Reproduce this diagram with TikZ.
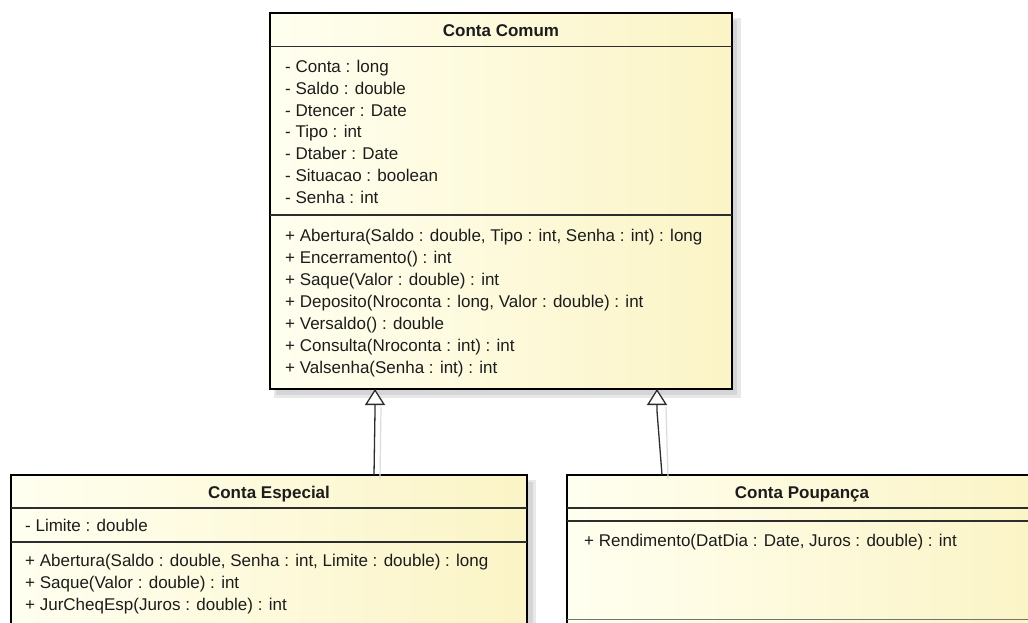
\documentclass[tikz,border=0pt]{standalone}
\usepackage{fontspec}
\setmainfont{Liberation Sans}
\usetikzlibrary{calc,arrows.meta}

\definecolor{classlight}{RGB}{255,255,240}
\definecolor{classdeep}{RGB}{251,244,198}
\definecolor{shadowgray}{RGB}{205,205,208}
\definecolor{inkgray}{RGB}{28,28,28}
\definecolor{rulegray}{RGB}{45,45,45}

\begin{document}
\begin{tikzpicture}[x=1pt,y=-1pt,
  classbox/.style={draw=black, line width=2.6pt, inner sep=0pt, outer sep=0pt,
    left color=classlight, right color=classdeep, anchor=north west},
  compline/.style={draw=rulegray, line width=1.4pt},
  member/.style={anchor=base west, inner sep=0pt, text=inkgray,
    font=\fontsize{17}{20}\selectfont},
  classname/.style={anchor=base, inner sep=0pt, text=inkgray,
    font=\fontsize{17}{20}\selectfont\bfseries},
  generalization/.style={draw=rulegray, line width=1.3pt,
    -{Triangle[open, length=16pt, width=20pt, fill=white]}},
  linkshadow/.style={draw=shadowgray!70, line width=1.2pt}]

\useasboundingbox (0,0) rectangle (1028,623);
\clip (0,0) rectangle (1028,623);
\fill[white] (0,0) rectangle (1028,623);

% soft drop shadows behind the class boxes
\fill[shadowgray, opacity=0.45] (274,18) rectangle (741,398);
\fill[shadowgray, opacity=0.7] (276,20) rectangle (737,395);
\fill[shadowgray, opacity=0.45] (15,480) rectangle (536,640);
\fill[shadowgray, opacity=0.7] (17,482) rectangle (533,640);

% ---------------- Conta Comum ----------------
\node[classbox, minimum width=462pt, minimum height=376pt] (comum) at (270,13) {};
\draw[compline] (comum.north west |- 0,46.5) coordinate (cL1) -- (comum.north east |- 0,46.5) coordinate (cR1);
\draw[compline] (comum.north west |- 0,215) coordinate (cL2) -- (comum.north east |- 0,215) coordinate (cR2);
\node[classname] (comumname) at (501,37) {Conta Comum};

\foreach \txt [count=\i] in {
  {- Conta : long},
  {- Saldo : double},
  {- Dtencer : Date},
  {- Tipo : int},
  {- Dtaber : Date},
  {- Situacao : boolean},
  {- Senha : int}}
  \node[member] (ca\i) at (285,{72.5+21.8*(\i-1)}) {\txt};

\foreach \txt [count=\i] in {
  {+ Abertura(Saldo : double, Tipo : int, Senha : int) : long},
  {+ Encerramento() : int},
  {+ Saque(Valor : double) : int},
  {+ Deposito(Nroconta : long, Valor : double) : int},
  {+ Versaldo() : double},
  {+ Consulta(Nroconta : int) : int},
  {+ Valsenha(Senha : int) : int}}
  \node[member] (cm\i) at (285,{241+22*(\i-1)}) {\txt};

% ---------------- Conta Especial ----------------
\node[classbox, minimum width=516pt, minimum height=170pt] (especial) at (11,475) {};
\draw[compline] (especial.north west |- 0,508) -- (especial.north east |- 0,508);
\draw[compline] (especial.north west |- 0,542) -- (especial.north east |- 0,542);
\node[classname] (especialname) at (269,498) {Conta Especial};
\node[member] (ea1) at (25,531) {- Limite : double};
\foreach \txt [count=\i] in {
  {+ Abertura(Saldo : double, Senha : int, Limite : double) : long},
  {+ Saque(Valor : double) : int},
  {+ JurCheqEsp(Juros : double) : int}}
  \node[member] (em\i) at (25,{566+22*(\i-1)}) {\txt};

% ---------------- Conta Poupança ----------------
\node[classbox, minimum width=470pt, minimum height=170pt] (poupanca) at (567,475) {};
\draw[compline] (poupanca.north west |- 0,508) -- (poupanca.north east |- 0,508);
\draw[compline] (poupanca.north west |- 0,521) -- (poupanca.north east |- 0,521);
\draw[draw=black!55, line width=1pt] (poupanca.north west |- 0,619.5) -- (poupanca.north east |- 0,619.5);
\node[classname] (poupancaname) at (802,498) {Conta Poupança};
\node[member] (pm1) at (584,546) {+ Rendimento(DatDia : Date, Juros : double) : int};

% ---------------- generalizations ----------------
\coordinate (tipL) at ($(comum.south west)+(105,0)$);
\coordinate (tipR) at ($(comum.south west)+(387,0)$);
\coordinate (footL) at ($(especial.north west)+(363,0)$);
\coordinate (footR) at ($(poupanca.north west)+(95,0)$);

\draw[linkshadow] ($(footL)+(6,4)$) -- ($(tipL)+(6,18)$);
\draw[linkshadow] ($(footR)+(6,4)$) -- ($(tipR)+(9,18)$);

\draw[generalization] (footL) -- ($(tipL)+(0,22)$) -- (tipL);
\draw[generalization] (footR) -- ($(tipR)+(0,22)$) -- (tipR);

\end{tikzpicture}
\end{document}
